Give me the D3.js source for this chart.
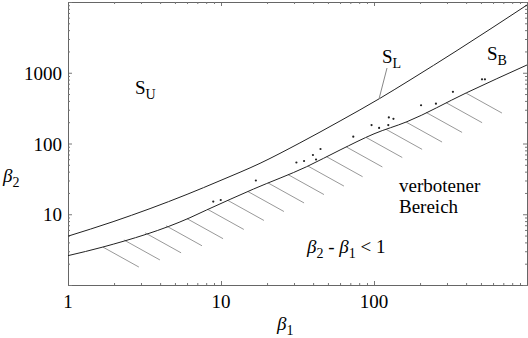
<!DOCTYPE html>
<html>
<head>
<meta charset="utf-8">
<script src="https://cdn.jsdelivr.net/npm/d3@7"></script>
</head>
<body style="margin:0">
<svg width="528" height="338" style="font-family:'Liberation Serif'"></svg>
<script>
// upper boundary S_L (beta1, beta2)
var upperB1 = [1, 1.97, 6.0, 9.85, 18.0, 32.8, 60, 109, 172, 349, 1000];
var upperB2 = [4.9, 7.85, 19.1, 29.8, 52.5, 102, 208, 433, 790, 2063, 9070];

// lower boundary S_B (beta2 - beta1 = 1 side)
var lowerB1 = [1, 1.69, 6.27, 8.06, 16.3, 36.3, 60, 100, 164, 403, 1000];
var lowerB2 = [2.6, 3.44, 8.94, 11.5, 22.7, 47, 81, 137, 203, 522, 1288];

// measured points
var dotB1 = [8.9, 9.96, 16.9, 31.1, 34.9, 39.9, 41.8, 44.7, 73.2, 96.4, 108, 124, 125, 134, 203, 254, 328, 508, 531];
var dotB2 = [15.1, 15.9, 30.0, 53.9, 56.6, 68.8, 59.4, 83.6, 125, 182, 166, 182, 234, 223, 347, 365, 538, 807, 807];

// where the hatch strokes start on the lower boundary
var hatchB1 = [1.69, 2.32, 3.19, 4.37, 6.0, 8.2, 11.1, 15.0, 20.3, 27.4, 37, 49, 66, 89, 120, 162, 219, 296, 399];

var xMajor = [1, 10, 100, 1000];
var yMajor = [1, 10, 100, 1000, 10000];
var xLabels = [1, 10, 100];
var yLabels = [10, 100, 1000];

var svg = d3.select("svg");

var x = d3.scaleLog().domain([1, 1000]).range([68, 527]);
var y = d3.scaleLog().domain([1, 10000]).range([285, 2]);

function minors(lo, hi) {
  var out = [];
  for (var d = lo; d < hi; d *= 10)
    for (var k = 2; k <= 9; k++) out.push(d * k);
  return out;
}
var xMinor = minors(1, 1000);
var yMinor = minors(1, 10000);

// all text in a Times-like face
function txt(sel) {
  return sel.append("text").style("font-family", "'Liberation Serif'").attr("font-size", 19);
}

//////////// FRAME ////////////

function frame(axisFn, scale, ticks, size, tr) {
  var g = svg.append("g")
      .attr("transform", tr)
      .call(axisFn(scale).tickValues(ticks).tickSize(size).tickSizeOuter(0).tickFormat(""));
  g.select(".domain").attr("stroke", "#666");
  g.selectAll(".tick line").attr("stroke", "#777");
  g.selectAll(".tick text").remove();
  return g;
}

frame(d3.axisBottom, x, xMajor, -4, "translate(0,285)");
frame(d3.axisBottom, x, xMinor, -2, "translate(0,285)");
frame(d3.axisTop, x, xMajor, -4, "translate(0,2)");
frame(d3.axisTop, x, xMinor, -2, "translate(0,2)");
frame(d3.axisLeft, y, yMajor, -4, "translate(68,0)");
frame(d3.axisLeft, y, yMinor, -2, "translate(68,0)");
frame(d3.axisRight, y, yMajor, -4, "translate(527,0)");
frame(d3.axisRight, y, yMinor, -2, "translate(527,0)");

xLabels.forEach(function(d) {
  txt(svg).attr("x", x(d)).attr("y", 308).attr("text-anchor", "middle").text(d);
});
yLabels.forEach(function(d) {
  txt(svg).attr("x", 62).attr("y", y(d) + 7).attr("text-anchor", "end").text(d);
});

//////////// HATCHING ////////////

// lower boundary in pixel space, linear between read points
var lowerPx = lowerB1.map(function(b, i) { return [x(b), y(lowerB2[i])]; });
function lowerY(px) {
  for (var i = 1; i < lowerPx.length; i++) {
    if (px <= lowerPx[i][0]) {
      var a = lowerPx[i - 1], b = lowerPx[i];
      return a[1] + (b[1] - a[1]) * (px - a[0]) / (b[0] - a[0]);
    }
  }
  return lowerPx[lowerPx.length - 1][1];
}

svg.append("g")
    .attr("stroke", "#999")
    .attr("stroke-width", 1)
  .selectAll("line")
  .data(hatchB1).enter().append("line")
    .attr("x1", function(d) { return x(d); })
    .attr("y1", function(d) { return lowerY(x(d)); })
    .attr("x2", function(d) { return x(d) + 36; })
    .attr("y2", function(d) { return lowerY(x(d)) + 20; });

//////////// CURVES ////////////

var line = d3.line()
    .x(function(d) { return x(d[0]); })
    .y(function(d) { return y(d[1]); })
    .curve(d3.curveMonotoneX);

svg.append("path")
    .datum(upperB1.map(function(b, i) { return [b, upperB2[i]]; }))
    .attr("d", line)
    .attr("fill", "none")
    .attr("stroke", "#222")
    .attr("stroke-width", 1);

svg.append("path")
    .datum(lowerB1.map(function(b, i) { return [b, lowerB2[i]]; }))
    .attr("d", line)
    .attr("fill", "none")
    .attr("stroke", "#222")
    .attr("stroke-width", 1);

svg.append("g").selectAll("circle")
  .data(dotB1).enter().append("circle")
    .attr("cx", function(d) { return x(d); })
    .attr("cy", function(d, i) { return y(dotB2[i]); })
    .attr("r", 1.1)
    .attr("fill", "#222");

//////////// LABELS ////////////

function label(px, py, main, sub, italic) {
  var t = txt(svg).attr("x", px).attr("y", py);
  var m = t.append("tspan").text(main);
  if (italic) m.style("font-style", "italic");
  if (sub) {
    t.append("tspan")
        .attr("font-size", 14)
        .attr("dy", 5)
        .text(sub);
  }
  return t;
}

label(135, 94, "S", "U");
label(382, 63, "S", "L");
label(487, 60, "S", "B");
label(3, 182, "\u03b2", "2", true);
label(277, 330, "\u03b2", "1", true);

// leader from S_L to the upper curve
svg.append("line")
    .attr("x1", 387).attr("y1", 68)
    .attr("x2", 379).attr("y2", 99)
    .attr("stroke", "#888");

txt(svg).attr("x", 399).attr("y", 192).text("verbotener");
txt(svg).attr("x", 399).attr("y", 213).text("Bereich");

var cond = txt(svg).attr("x", 307).attr("y", 253);
cond.append("tspan").style("font-style", "italic").text("\u03b2");
cond.append("tspan").attr("font-size", 14).attr("dy", 5).text("2");
cond.append("tspan").attr("dy", -5).text(" - ");
cond.append("tspan").style("font-style", "italic").text("\u03b2");
cond.append("tspan").attr("font-size", 14).attr("dy", 5).text("1");
cond.append("tspan").attr("dy", -5).text(" < 1");
</script>
</body>
</html>
